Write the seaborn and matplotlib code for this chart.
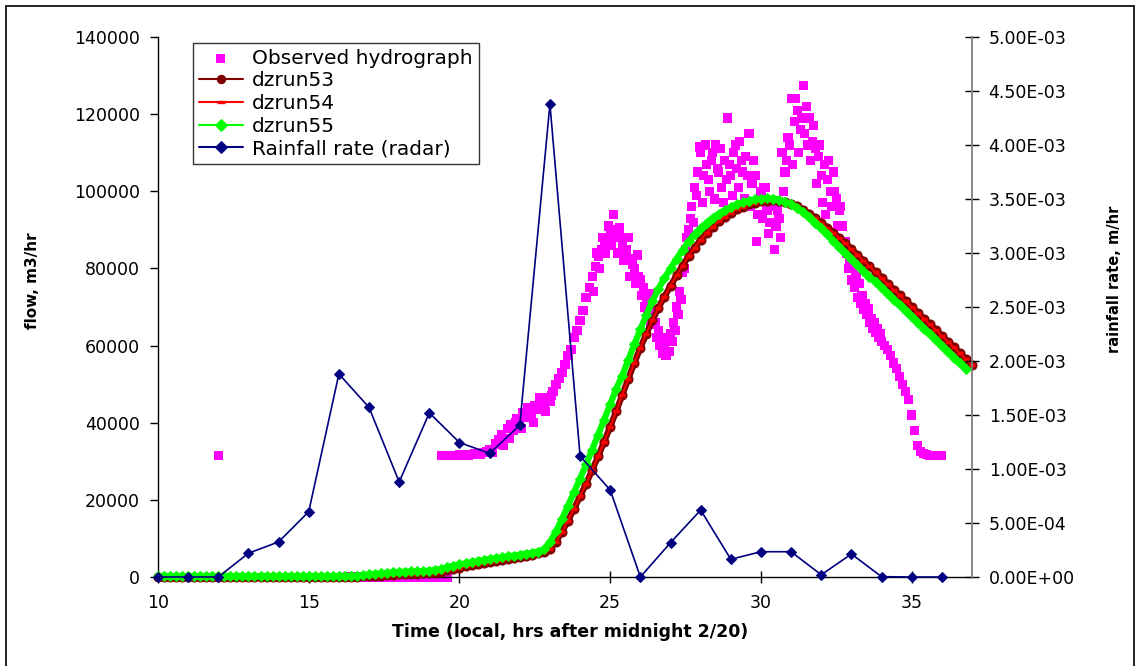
import numpy as np
import matplotlib
matplotlib.use("Agg")
import matplotlib.pyplot as plt
import seaborn as sns
from matplotlib.ticker import FuncFormatter
from matplotlib.lines import Line2D

# ---------------- data ----------------
# model runs sampled every 0.2 h
model_hours_53 = np.round(np.arange(10.0, 37.0001, 0.2), 1)
model_hours_55 = np.round(np.arange(10.0, 36.8001, 0.2), 1)

dzrun53 = [
    0, 0, 0, 0, 0, 0, 0, 0, 0, 0,
    0, 0, 0, 0, 0, 0, 0, 0, 0, 0,
    0, 0, 0, 0, 0, 0, 0, 0, 0, 0,
    0, 50, 80,
    100, 150, 200, 280, 350, 450, 550, 650, 720, 780,
    850, 920, 1000, 1150, 1400, 1700, 2050, 2400, 2750, 3050,
    3350, 3650, 3950, 4200, 4450, 4700, 4950, 5200, 5500, 5800,
    6150, 6500,
    7300, 9100, 11700, 14600, 17700, 20900, 24200, 27700, 31300, 35100,
    39000, 43000, 47200, 51400, 55500, 59400, 63100, 66600, 69800, 72700,
    75500, 78200, 80700, 83200, 85400, 87400, 89200, 90800, 92200, 93400,
    94400, 95300, 96000, 96600, 97000, 97400, 97600, 97700,
    97600, 97300, 96800, 96100, 95200, 94200, 93100, 91900, 90600, 89300,
    87900, 86500, 85000, 83500, 82000, 80500, 79000, 77500, 76000, 74500,
    73000, 71500, 70000, 68500, 67000, 65500, 64000, 62500, 61000, 59500,
    58000, 56500, 55000,
]

dzrun54 = [
    0, 0, 0, 0, 0, 0, 0, 0, 0, 0,
    0, 0, 0, 0, 0, 0, 0, 0, 0, 0,
    0, 0, 0, 0, 0, 0, 0, 0, 0, 0,
    0, 50, 80,
    100, 150, 200, 280, 350, 450, 550, 650, 720, 780,
    850, 920, 1000, 1150, 1400, 1700, 2050, 2400, 2750, 3050,
    3350, 3650, 3950, 4200, 4450, 4700, 4950, 5200, 5500, 5800,
    6150, 6500,
    7300, 9100, 11700, 14600, 17700, 20900, 24200, 27700, 31300, 35100,
    39000, 43000, 47200, 51400, 55500, 59400, 63100, 66600, 69800, 72700,
    75500, 78200, 80700, 83200, 85400, 87400, 89200, 90800, 92200, 93400,
    94400, 95300, 96000, 96600, 97000, 97400, 97600, 97700,
    97600, 97300, 96800, 96100, 95200, 94200, 93100, 91900, 90600, 89300,
    87900, 86500, 85000, 83500, 82000, 80500, 79000, 77500, 76000, 74500,
    73000, 71500, 70000, 68500, 67000, 65500, 64000, 62500, 61000, 59500,
    58000, 56500, 55000,
]

dzrun55 = [
    150, 150, 150, 150, 150, 150, 150, 150, 150, 150,
    150, 150, 150, 150, 150, 150, 150, 150, 150, 150,
    150, 150, 150, 150, 150, 150, 150, 150, 150, 150,
    150, 150,
    250, 350, 500, 650, 800, 950, 1100, 1200, 1300, 1380,
    1450, 1500, 1550, 1650, 1850, 2150, 2500, 2900, 3250, 3550,
    3850, 4150, 4400, 4650, 4900, 5100, 5350, 5550, 5800, 6050,
    6300, 6600, 7200,
    9000, 11800, 15000, 18500, 22000, 25500, 29200, 33000, 36900, 40800,
    44800, 48800, 52200, 56300, 60300, 64200, 68000, 71600, 74700, 77500,
    80000, 82500, 84800, 87000, 88900, 90500, 91900, 93100, 94200, 95100,
    95900, 96600, 97100, 97600, 97900, 98100, 98200,
    98100, 97800, 97300, 96600, 95700, 94600, 93300, 91900, 90400, 88800,
    87200, 85600, 84000, 82400, 80900, 79400, 77900, 76400, 74900, 73400,
    71900, 70400, 68900, 67400, 65900, 64400, 62900, 61400, 59900, 58400,
    56900, 55400, 54000,
]

# observed hydrograph
obs_single_hours = [12.0]
obs_single_flow = [31600]

obs_zero_hours = np.round(np.arange(16.3, 19.6001, 0.1), 1)
obs_zero_flow = [0] * len(obs_zero_hours)

obs_main_hours = np.round(np.arange(19.4, 36.0001, 0.1), 1)
obs_main_flow = [
    31600, 31600, 31600, 31600, 31600, 31600, 31700, 31600, 31800, 31600,
    31700, 31900, 32000, 31800, 32200, 32500, 33000, 32400, 34500, 35500,
    37000, 36000, 38500, 39500, 38000, 41000, 40500, 42500, 41500, 43000,
    42000, 44500, 43500, 45500, 44000, 46500, 45500, 48000, 50000, 51500,
    53000, 55000, 57500, 59000, 62000, 64000, 66500, 69000, 72500, 75000,
    78000, 80500, 83000, 85000, 86000, 88000, 89000, 94000, 88000, 90500,
    86500, 84000, 88000, 82500, 80000, 83500, 77000, 75000, 72000, 73500,
    69000, 66000, 64000, 62000, 59500, 61000, 63000, 66000, 70000, 74000,
    79000, 85000, 90000, 96000, 101000, 105000, 110000, 104000, 107000, 100000,
    110000, 112000, 105000, 101000, 108000, 119000, 104000, 110000, 106000, 113000,
    105000, 109000, 115000, 102000, 104000, 94000, 100000, 101000, 95000, 92000,
    97000, 91000, 93000, 110000, 105000, 114000, 124000, 118000, 121000, 116000,
    127500, 122000, 119000, 113000, 111000, 109000, 104000, 107000, 103000, 100000,
    105000, 98000, 95000, 91000, 87000, 80000, 77000, 75000, 72500, 71000,
    69500, 68000, 66000, 64500, 63500, 62000, 61000, 60000, 59000, 57500,
    55500, 54000, 52000, 50000, 48000, 46000, 42000, 38000, 34000, 32500,
    32000, 31800, 31600, 31600, 31600, 31600, 31600,
]

obs_extra_hours_a = np.round(np.arange(21.45, 23.0501, 0.2), 2)
obs_extra_flow_a = [34000, 36000, 40000, 38500, 44000, 40000, 46500, 43000, 47000]

obs_extra_hours_b = np.round(np.arange(24.45, 27.4501, 0.1), 2)
obs_extra_flow_b = [
    74000, 84000, 80000, 88000, 84000, 91000, 86000, 90000, 84000, 88000,
    82000, 85000, 78000, 81000, 76000, 78000, 73000, 70000, 68000, 66000,
    65500, 62000, 60000, 58000, 57500, 58500, 61000, 64000, 68000, 72000,
    80000,
]

obs_extra_hours_c = np.round(np.arange(27.55, 32.9501, 0.1), 2)
obs_extra_flow_c = [
    88000, 93000, 92000, 99000, 111500, 97000, 112000, 103000, 108000, 98000,
    106000, 111000, 97000, 103000, 107000, 99000, 112000, 101000, 108000, 98000,
    104000, 96000, 108000, 87000, 98000, 93000, 101000, 89000, 96000, 85000,
    95000, 88000, 100000, 108000, 112000, 107000, 124000, 110000, 119000, 115000,
    112000, 108000, 117000, 102000, 112000, 97000, 94000, 108000, 96000, 100000,
    91000, 96000, 86000, 84000, 82000,
]

obs_extra_hours_d = np.round(np.arange(33.05, 33.9501, 0.1), 2)
obs_extra_flow_d = [80000, 78000, 76000, 73000, 71000, 69500, 67000, 66000, 64500, 63000]

# radar rainfall rate, hourly
rain_hours = list(range(10, 37))
rain_rate = [
    0.0, 0.0, 0.0, 0.22e-3, 0.325e-3, 0.605e-3, 1.88e-3, 1.57e-3, 0.88e-3, 1.52e-3,
    1.245e-3, 1.145e-3, 1.405e-3, 4.38e-3, 1.12e-3, 0.805e-3, 0.0, 0.318e-3, 0.62e-3, 0.164e-3,
    0.234e-3, 0.234e-3, 0.02e-3, 0.213e-3, 0.003e-3, 0.0, 0.0,
]

x_ticks = [10, 15, 20, 25, 30, 35]
flow_ticks = [0, 20000, 40000, 60000, 80000, 100000, 120000, 140000]
rain_ticks = [0, 5e-4, 1e-3, 1.5e-3, 2e-3, 2.5e-3, 3e-3, 3.5e-3, 4e-3, 4.5e-3, 5e-3]

# ---------------- plot ----------------
sns.set_theme(style="white")
plt.rcParams["font.family"] = ["DejaVu Sans"]

W, H = 1142, 666
fig = plt.figure(figsize=(W / 100, H / 100), dpi=100)
fig.patch.set_facecolor("white")
ax = fig.add_axes([158 / W, 1 - 577 / H, (972 - 158) / W, 540 / H])
ax2 = ax.twinx()

obs_hours = np.concatenate([obs_single_hours, obs_zero_hours, obs_main_hours,
                            obs_extra_hours_a, obs_extra_hours_b,
                            obs_extra_hours_c, obs_extra_hours_d])
obs_flow = np.concatenate([obs_single_flow, obs_zero_flow, obs_main_flow,
                           obs_extra_flow_a, obs_extra_flow_b,
                           obs_extra_flow_c, obs_extra_flow_d])

sns.scatterplot(x=obs_hours, y=obs_flow, marker="s", s=44, color="#FF00FF",
                edgecolor="none", linewidth=0, ax=ax,
                label="Observed hydrograph", clip_on=False, zorder=2)
sns.lineplot(x=model_hours_53, y=dzrun53, color="#800000", marker="o",
             markersize=6.5, markeredgecolor="#800000", linewidth=4.5,
             estimator=None, sort=False, ax=ax, label="dzrun53",
             clip_on=False, zorder=3)
sns.lineplot(x=model_hours_53, y=dzrun54, color="#FF0000", marker="_",
             markersize=4.5, markeredgewidth=2.4, markeredgecolor="#FF0000",
             linewidth=1.3, estimator=None, sort=False, ax=ax, label="dzrun54",
             clip_on=False, zorder=4)
sns.lineplot(x=model_hours_55, y=dzrun55, color="#00FF00", marker="D",
             markersize=5.6, markeredgecolor="#00FF00", linewidth=4.5,
             estimator=None, sort=False, ax=ax, label="dzrun55",
             clip_on=False, zorder=5)
sns.lineplot(x=rain_hours, y=rain_rate, color="#000080", marker="D",
             markersize=5.5, markeredgecolor="#000080", linewidth=1.2,
             estimator=None, sort=False, ax=ax2, label="Rainfall rate (radar)",
             clip_on=False, zorder=6)

# axes limits / ticks
ax.set_xlim(10, 37)
ax.set_ylim(0, 140000)
ax2.set_ylim(0, 5e-3)
ax.set_xticks(x_ticks)
ax.set_yticks(flow_ticks)
ax2.set_yticks(rain_ticks)
ax.yaxis.set_major_formatter(FuncFormatter(lambda v, p: f"{int(v)}"))
ax2.yaxis.set_major_formatter(FuncFormatter(lambda v, p: f"{v:.2E}"))

for a in (ax, ax2):
    a.grid(False)
    a.spines["top"].set_visible(False)
ax.spines["right"].set_visible(False)
ax.spines["left"].set_color("black")
ax.spines["bottom"].set_color("black")
ax.spines["left"].set_linewidth(1.0)
ax.spines["bottom"].set_linewidth(1.0)
ax2.spines["left"].set_visible(False)
ax2.spines["bottom"].set_visible(False)
ax2.spines["right"].set_color("#808080")
ax2.spines["right"].set_linewidth(1.3)

ax.tick_params(axis="y", left=True, direction="out", length=6, width=1,
               color="black", labelcolor="black", labelsize=12.5, pad=7)
ax.tick_params(axis="x", bottom=True, direction="inout", length=8, width=1,
               color="black", labelcolor="black", labelsize=12.5, pad=8)
ax2.tick_params(axis="y", right=True, direction="inout", length=10, width=1,
                color="black", labelcolor="black", labelsize=12.5, pad=7)

ax.set_xlabel("Time (local, hrs after midnight 2/20)", fontsize=12.5,
              fontweight="bold", color="black")
ax.xaxis.set_label_coords(0.506, -0.085)
ax.set_ylabel("flow, m3/hr", fontsize=11, fontweight="bold", color="black")
ax.yaxis.set_label_coords(-0.145, 0.548)
ax2.set_ylabel("rainfall rate, m/hr", fontsize=10.5, fontweight="bold",
               color="black")
ax2.yaxis.set_label_coords(1.166, 0.552)

# legend
h1, l1 = ax.get_legend_handles_labels()
h2, l2 = ax2.get_legend_handles_labels()
if ax.get_legend() is not None:
    ax.get_legend().remove()
if ax2.get_legend() is not None:
    ax2.get_legend().remove()
leg = ax2.legend(h1 + h2, l1 + l2, loc="upper left",
                 bbox_to_anchor=(192.5 / W, 1 - 42.7 / H),
                 bbox_transform=fig.transFigure, frameon=True, fancybox=False,
                 edgecolor="black", borderaxespad=0, fontsize=14.5,
                 handlelength=2.2, labelspacing=0.18, borderpad=0.3,
                 handletextpad=0.45, numpoints=1, scatterpoints=1)
leg.get_frame().set_linewidth(1.0)
for t in leg.get_texts():
    t.set_color("black")
for lh in leg.legend_handles:
    if isinstance(lh, Line2D):
        lh.set_linewidth(1.5)
        lh.set_markersize(6)

# outer figure frame
x0, x1, yt = 6 / W, 1134 / W, 1 - 6 / H
for xs, ys in (([x0, x0], [0, yt]), ([x0, x1], [yt, yt]), ([x1, x1], [yt, 0])):
    fig.add_artist(Line2D(xs, ys, transform=fig.transFigure, color="black", lw=1.2))

fig.savefig("out.png", dpi=100)
